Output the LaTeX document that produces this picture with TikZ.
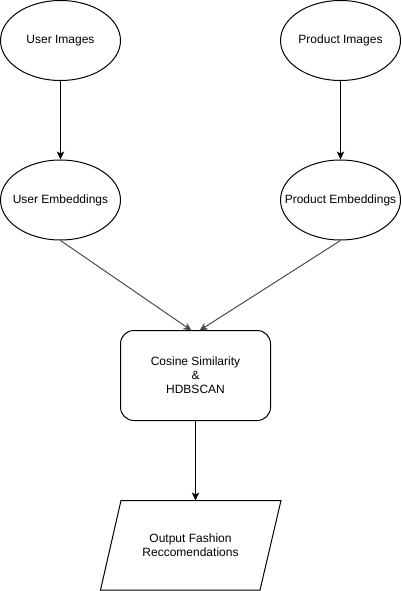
\documentclass[tikz,border=0pt]{standalone}
\usepackage{fontspec}
\setmainfont{Liberation Sans}
\usetikzlibrary{shapes.geometric,arrows.meta}
\begin{document}
\begin{tikzpicture}[x=0.75pt,y=-0.75pt,
  every node/.style={font=\fontsize{9}{10.5}\selectfont, align=center},
  ell/.style={draw, ellipse, line width=0.75pt, minimum width=90pt, minimum height=60pt, inner sep=0pt, label={center:#1}},
  rbox/.style={draw, rounded corners=10pt, line width=0.75pt, minimum width=112.5pt, minimum height=67.5pt, inner sep=0pt},
  conn/.style={line width=0.75pt, -{Stealth[length=6pt,width=5.5pt,inset=1.5pt]}},
  diag/.style={conn, draw=black!70}
]
\useasboundingbox (0,0) rectangle (401,591);
\node[ell={User Images}] (ui) at (60.5,40.5) {};
\node[ell={Product Images}] (pi) at (340.5,40.5) {};
\node[ell={User Embeddings}] (ue) at (60.5,200) {};
\node[ell={Product Embeddings}] (pe) at (340.5,200) {};
\node[rbox] (cs) at (195.5,375.5) {Cosine Similarity\\\&\\HDBSCAN};
\draw[line width=0.75pt] (121,500.5) -- (281,500.5) -- (260,590) -- (100.5,590) -- cycle;
\node (out) at (190.5,545.5) {Output Fashion\\Reccomendations};
\coordinate (outtop) at (195.5,500.5);
\coordinate (csl) at (191.5,330.5);
\coordinate (csr) at (199.5,330.5);
\draw[conn] (ui) -- (ue);
\draw[conn] (pi) -- (pe);
\draw[diag] (ue.south) -- (csl);
\draw[diag] (pe.south) -- (csr);
\draw[conn] (cs) -- (outtop);
\end{tikzpicture}
\end{document}
